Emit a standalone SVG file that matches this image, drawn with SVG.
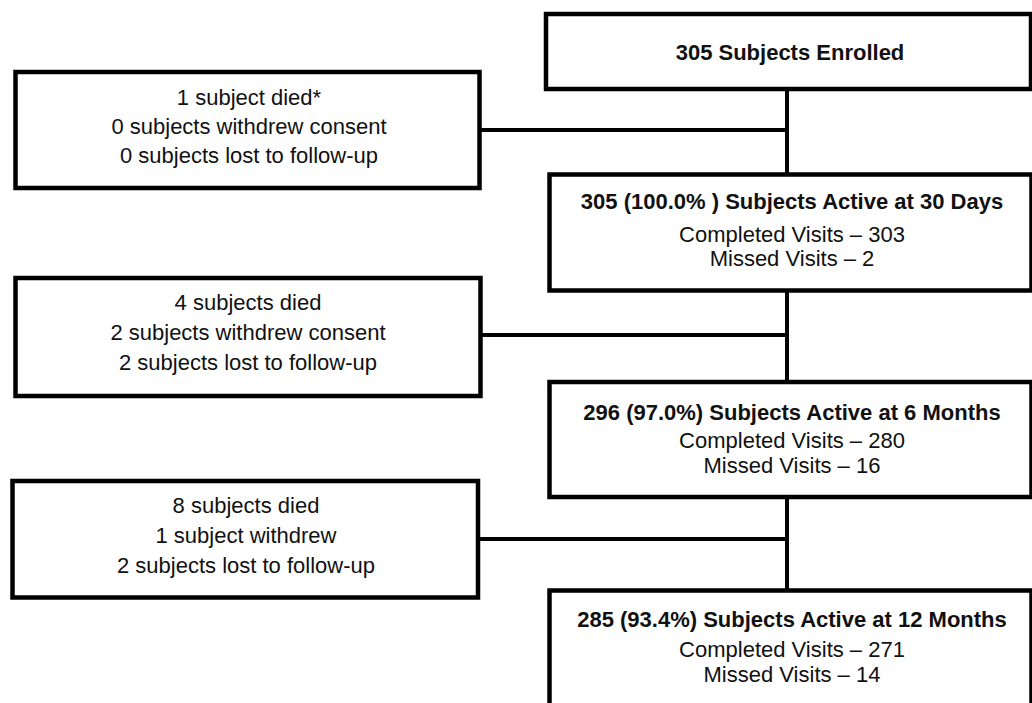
<svg xmlns="http://www.w3.org/2000/svg" width="1032" height="703" viewBox="0 0 1032 703">
<style>
.box{fill:#fff;stroke:#000;stroke-width:4.5}
.con{stroke:#000;stroke-width:4;fill:none}
text{font-family:"Liberation Sans",Arial,sans-serif;font-size:22px;fill:#111;text-anchor:middle}
.b{font-weight:bold}
</style>
<rect width="1032" height="703" fill="#fff"/>
<g id="connectors">
<line class="con" x1="787" y1="89" x2="787" y2="174"/>
<line class="con" x1="479" y1="130" x2="789" y2="130"/>
<line class="con" x1="787" y1="290" x2="787" y2="382"/>
<line class="con" x1="480" y1="335" x2="789" y2="335"/>
<line class="con" x1="787" y1="497" x2="787" y2="590"/>
<line class="con" x1="478" y1="539" x2="789" y2="539"/>
</g>
<g id="enrolled">
<rect class="box" x="546" y="14" width="485" height="75"/>
<text class="b" x="790" y="60">305 Subjects Enrolled</text>
</g>
<g id="dropout1">
<rect class="box" x="15.5" y="72" width="464" height="116"/>
<text x="249" y="104.5">1 subject died*</text>
<text x="249" y="133.5">0 subjects withdrew consent</text>
<text x="249" y="163">0 subjects lost to follow-up</text>
</g>
<g id="active30">
<rect class="box" x="549.5" y="174.5" width="482" height="116"/>
<text class="b" x="792" y="209">305 (100.0% ) Subjects Active at 30 Days</text>
<text x="792" y="241.5">Completed Visits – 303</text>
<text x="792" y="266">Missed Visits – 2</text>
</g>
<g id="dropout2">
<rect class="box" x="15.5" y="278" width="465" height="118"/>
<text x="248" y="310">4 subjects died</text>
<text x="248" y="340">2 subjects withdrew consent</text>
<text x="248" y="370">2 subjects lost to follow-up</text>
</g>
<g id="active6">
<rect class="box" x="549.5" y="382" width="482" height="115"/>
<text class="b" x="792" y="420">296 (97.0%)  Subjects Active at 6 Months</text>
<text x="792" y="448">Completed Visits – 280</text>
<text x="792" y="473">Missed Visits – 16</text>
</g>
<g id="dropout3">
<rect class="box" x="12.5" y="481" width="465.5" height="116.5"/>
<text x="246" y="513">8 subjects died</text>
<text x="246" y="543">1 subject withdrew</text>
<text x="246" y="573">2 subjects lost to follow-up</text>
</g>
<g id="active12">
<rect class="box" x="549.5" y="590.5" width="482" height="120"/>
<text class="b" x="792" y="627">285 (93.4%) Subjects Active at 12 Months</text>
<text x="792" y="657">Completed Visits – 271</text>
<text x="792" y="682">Missed Visits – 14</text>
</g>
</svg>
